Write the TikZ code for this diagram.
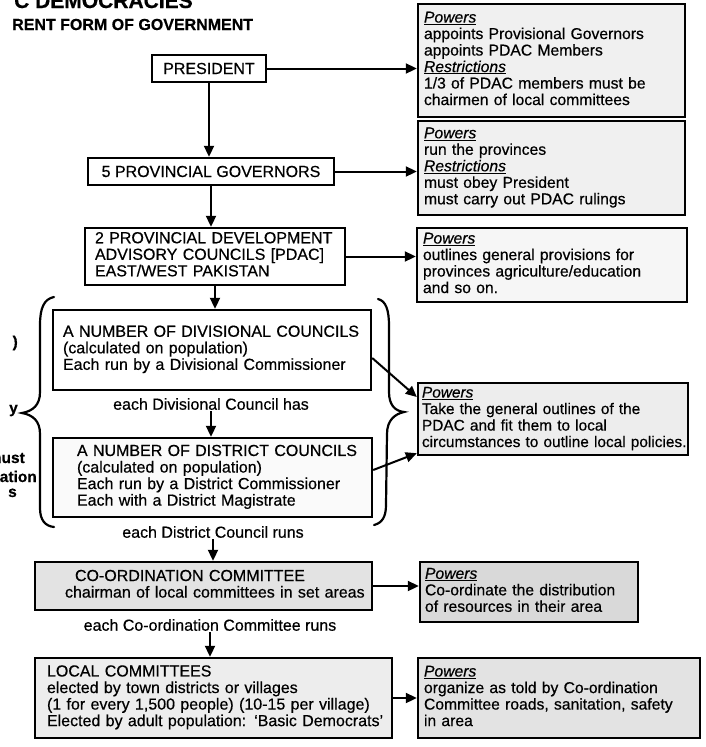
\documentclass[tikz,border=0pt]{standalone}
\usepackage{fontspec}
\setmainfont{Liberation Sans}[FakeBold=0.5]
\usetikzlibrary{arrows.meta,calc}
\newcommand{\pw}{\underline{\textit{Powers}}}
\newcommand{\rs}{\underline{\textit{Restrictions}}}
\newcommand{\lns}[1]{\begin{tabular}{@{}l@{}}#1\end{tabular}}
\tikzset{
  bx/.style={draw=black, line width=2.4pt, align=left, inner ysep=2pt,
    font=\fontsize{16}{16.5}\selectfont},
  pb/.style={bx, font=\fontsize{15.7}{16.5}\selectfont},
  arr/.style={line width=2pt, -{Triangle[length=11pt,width=10pt]}},
  lab/.style={font=\fontsize{16}{16}\selectfont, inner sep=1pt},
  frag/.style={font=\bfseries\fontsize{15.5}{15.5}\selectfont, inner sep=0pt, anchor=base east},
  brace/.style={line width=2.2pt, line cap=round},
}
\begin{document}
\begin{tikzpicture}[x=1pt,y=-1pt]
\clip (0,0) rectangle (706,747);
\fill[white] (0,0) rectangle (706,747);

% title and subtitle (cut off by the page edge)
\node[anchor=base west, inner sep=0pt, font=\bfseries\fontsize{21}{21}\selectfont] (title) at (14,8) {C DEMOCRACIES};
\node[anchor=base west, inner sep=0pt, font=\bfseries\fontsize{16}{16}\selectfont] (sub) at (12,30) {RENT FORM OF GOVERNMENT};

% left column fragments
\node[frag] (f1) at (18,347) {)};
\node[frag] (f2) at (18,413) {y};
\node[frag] (f3) at (25,463) {must};
\node[frag] (f4) at (37,482) {ation};
\node[frag] (f5) at (17,497) {s};

% main chain
\node[bx, align=center, minimum width=114pt, minimum height=27pt, fill=white] (pres) at (209,68.5) {PRESIDENT};
\node[bx, align=center, minimum width=246pt, minimum height=27pt, fill=white] (gov) at (211,171.5) {5 PROVINCIAL GOVERNORS};
\node[bx, minimum width=260pt, minimum height=57pt, inner xsep=10pt, text width=240pt, fill=white] (pdac) at (215,256.5)
  {\lns{2 PROVINCIAL DEVELOPMENT\\ADVISORY COUNCILS [PDAC]\\EAST/WEST PAKISTAN}};
\node[bx, minimum width=318pt, minimum height=80pt, inner xsep=10pt, text width=298pt, fill=white] (div) at (212,350)
  {\lns{A NUMBER OF DIVISIONAL COUNCILS\\(calculated on population)\\Each run by a Divisional Commissioner}\\[6pt]};
\node[lab] (lab1) at (211,404) {each Divisional Council has};
\node[bx, minimum width=319pt, minimum height=79pt, inner xsep=24pt, text width=271pt, fill=gray!4] (dist) at (212.5,477.5)
  {\lns{A NUMBER OF DISTRICT COUNCILS\\(calculated on population)\\Each run by a District Commissioner\\Each with a District Magistrate}};
\node[lab] (lab2) at (213,532) {each District Council runs};
\node[bx, minimum width=337pt, minimum height=48pt, inner xsep=30pt, text width=277pt, fill=gray!22] (coord) at (203.5,586)
  {\lns{\hspace*{10pt}CO-ORDINATION COMMITTEE\\chairman of local committees in set areas}};
\node[lab] (lab3) at (210,625) {each Co-ordination Committee runs};
\node[bx, minimum width=357pt, minimum height=80pt, inner xsep=12pt, text width=333pt, fill=gray!14] (local) at (213.5,698)
  {\lns{LOCAL COMMITTEES\\elected by town districts or villages\\(1 for every 1,500 people) (10-15 per village)\\Elected by adult population: `Basic Democrats'}};

% powers boxes
\node[pb, minimum width=267pt, minimum height=113pt, inner xsep=6pt, text width=255pt, fill=gray!12] (p1) at (551.5,60.5)
  {\lns{\pw\\appoints Provisional Governors\\appoints PDAC Members\\\rs\\1/3 of PDAC members must be\\chairmen of local committees}};
\node[pb, minimum width=267pt, minimum height=94pt, inner xsep=6pt, text width=255pt, fill=gray!12] (p2) at (551.5,168)
  {\lns{\pw\\run the provinces\\\rs\\must obey President\\must carry out PDAC rulings}};
\node[pb, minimum width=270pt, minimum height=74pt, inner xsep=6pt, text width=258pt, fill=gray!7] (p3) at (552,265)
  {\lns{\pw\\outlines general provisions for\\provinces agriculture/education\\and so on.}};
\node[pb, font=\fontsize{15.4}{16.5}\selectfont, minimum width=270pt, minimum height=72pt, inner xsep=4pt, text width=262pt, fill=gray!14] (p4) at (553,419)
  {\lns{\pw\\Take the general outlines of the\\PDAC and fit them to local\\circumstances to outline local policies.}};
\node[pb, minimum width=218pt, minimum height=60pt, inner xsep=5pt, text width=208pt, fill=gray!30] (p5) at (529,592)
  {\lns{\pw\\Co-ordinate the distribution\\of resources in their area}};
\node[pb, minimum width=282pt, minimum height=80pt, inner xsep=6pt, text width=270pt, fill=gray!22] (p6) at (559,698)
  {\lns{\pw\\organize as told by Co-ordination\\Committee roads, sanitation, safety\\in area}};

% vertical arrows
\draw[arr] (pres.south) -- (pres.south |- gov.north);
\draw[arr] (gov.south) -- (gov.south |- pdac.north);
\draw[arr] (pdac.south) -- (pdac.south |- div.north);
\draw[arr] (lab1.south) -- (lab1.south |- dist.north);
\draw[arr] (lab2.south) -- (lab2.south |- coord.north);
\draw[arr] (lab3.south) -- (lab3.south |- local.north);

% horizontal arrows to powers
\draw[arr] (pres.east) -- (pres.east -| p1.west);
\draw[arr] (gov.east) -- (gov.east -| p2.west);
\draw[arr] (pdac.east) -- (pdac.east -| p3.west);
\draw[arr] (coord.east) -- (coord.east -| p5.west);
\draw[arr] (local.east) -- (local.east -| p6.west);
\draw[arr] ([yshift=-8pt]div.east) -- ([yshift=22pt]p4.west);
\draw[arr] ([yshift=7.5pt]dist.east) -- ([yshift=3pt]p4.south west);

% braces
\draw[brace] (54,297) .. controls (44,299) and (40,308) .. (40,325) -- (40,392)
  .. controls (40,405) and (33,411) .. (22,413)
  .. controls (33,415) and (40,421) .. (40,434) -- (40,508)
  .. controls (40,520) and (45,526) .. (54,527);
\draw[brace] (378,299) .. controls (386,301) and (389,310) .. (389,326) -- (389,392)
  .. controls (389,405) and (395,411) .. (404,412)
  .. controls (395,414) and (387,420) .. (387,434) -- (386,505)
  .. controls (386,517) and (382,523) .. (374,525);
\end{tikzpicture}
\end{document}
